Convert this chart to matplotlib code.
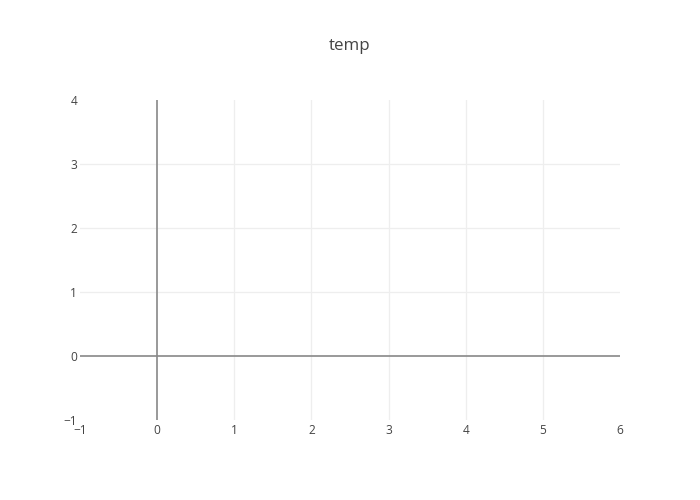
import matplotlib
matplotlib.use('Agg')
import matplotlib.pyplot as plt

plt.rcParams['font.family'] = ['Open Sans', 'DejaVu Sans']

title = 'temp'
x_range = [-1, 6]
y_range = [-1, 4]
x_ticks = [-1, 0, 1, 2, 3, 4, 5, 6]
y_ticks = [-1, 0, 1, 2, 3, 4]

text_color = '#444444'

fig = plt.figure(figsize=(7, 5), dpi=100)
ax = fig.add_axes([80 / 700, 80 / 500, 540 / 700, 320 / 500])

ax.set_xlim(x_range)
ax.set_ylim(y_range)
ax.set_xticks(x_ticks)
ax.set_yticks(y_ticks)
ax.set_xticklabels(['\u2212' + str(-t) if t < 0 else str(t) for t in x_ticks])
ax.set_yticklabels(['\u2212' + str(-t) if t < 0 else str(t) for t in y_ticks])

for s in ax.spines.values():
    s.set_visible(False)
ax.tick_params(length=0, labelsize=8.6, colors=text_color)
ax.tick_params(axis='x', pad=2.6)
ax.tick_params(axis='y', pad=2)

# grid only inside the plot area
for t in x_ticks[1:-1]:
    if t != 0:
        ax.axvline(t, color='#eeeeee', lw=0.9, zorder=1)
for t in y_ticks[1:-1]:
    if t != 0:
        ax.axhline(t, color='#eeeeee', lw=0.9, zorder=1)

# zero lines
ax.axhline(0, color='#888888', lw=1.2, zorder=2)
ax.axvline(0, color='#888888', lw=1.2, zorder=2)

fig.text(350 / 700, 1 - 46 / 500, title, ha='center', va='center',
         fontsize=12.2, color=text_color)

fig.savefig('out.png', dpi=100)
